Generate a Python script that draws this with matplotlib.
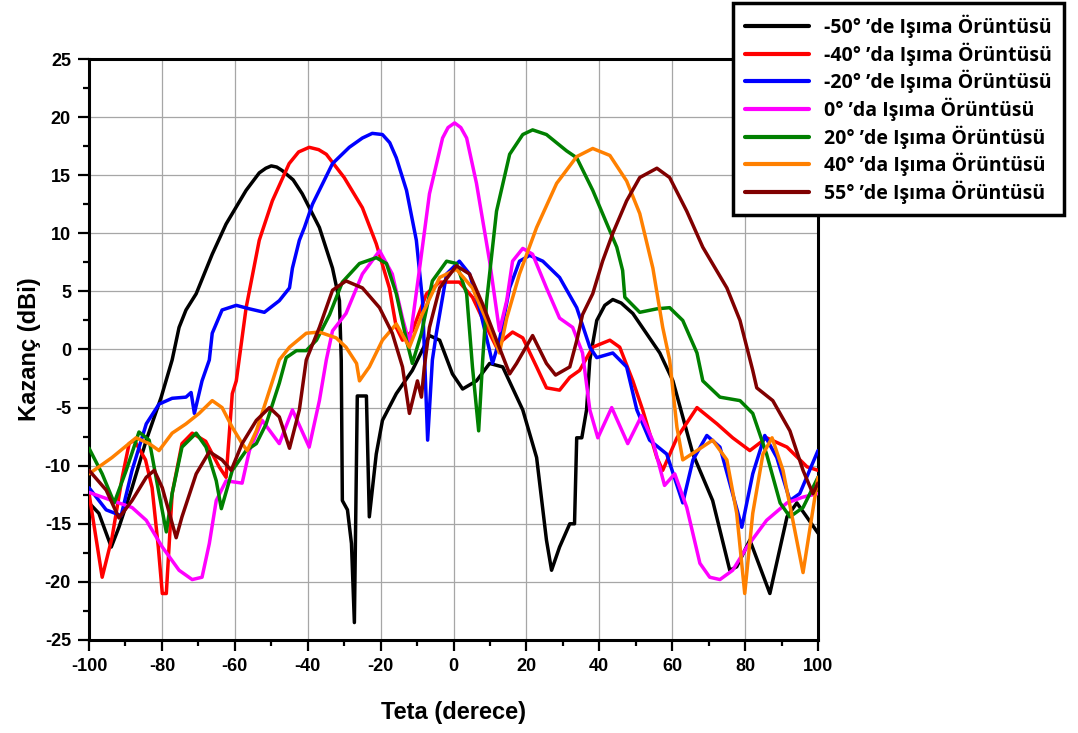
import matplotlib
matplotlib.use("Agg")
import matplotlib.pyplot as plt
from matplotlib.ticker import MultipleLocator

# ---------------- data ----------------
labels = ["-50° \u2019de Işıma Örüntüsü", "-40° \u2019da Işıma Örüntüsü",
          "-20° \u2019de Işıma Örüntüsü", "0° \u2019da Işıma Örüntüsü",
          "20° \u2019de Işıma Örüntüsü", "40° \u2019da Işıma Örüntüsü",
          "55° \u2019de Işıma Örüntüsü"]
colors = ["#000000", "#ff0000", "#0000ff", "#ff00ff", "#008000", "#ff8000", "#800000"]

x_m50 = [-100, -97.3, -93.9, -91.8, -88.2, -84.3, -80.2, -77.2, -75.3, -73.4, -70.6, -66.2, -62.4,
         -56.9, -53.3, -51.5, -50, -48.5, -47, -44, -41.5, -36.8, -33.2, -31.3, -30.8, -30.5, -29.1, -28, -27.2, -26.4,
         -23.9, -23.1, -21.2, -19.5, -15.7, -11.3, -6.6, -3.8, -0.3, 2.5, 6.3, 9.9, 13.5, 19, 22.8,
         25.5, 26.9, 29.1, 31.9, 33.2, 33.8, 35.2, 36.5, 37.4, 39.3, 41.5, 43.7, 46, 49.2, 56.6, 60.2, 65.7,
         71.1, 75.8, 77.7, 81.3, 86.8, 91.5, 94.2, 96.9, 100]
y_m50 = [-13.2, -14.1, -17, -15.3, -11.9, -7.8, -4.1, -0.9, 1.9, 3.4, 4.8, 8.2, 10.8,
         13.7, 15.2, 15.6, 15.8, 15.7, 15.4, 14.6, 13.4, 10.5, 7, 4.2, -0.9, -13, -13.8, -16.7, -23.5, -4.0,
         -4.0, -14.4, -9, -6.1, -3.8, -1.8, 1.2, 0.8, -2.1, -3.4, -2.7, -1.2, -1.5, -5.2, -9.3,
         -16.4, -19, -17, -15, -15, -7.6, -7.6, -5.2, -0.9, 2.5, 3.8, 4.3, 4.0, 3.1, -0.3, -2.7, -9,
         -13, -19, -18.7, -16.4, -21, -14.4, -13.2, -14.4, -15.8]

x_m40 = [-100, -96.4, -93.7, -90.9, -89, -87.6, -84.5, -82.7, -81, -79.9, -78.8, -77.2, -74.5, -71.7,
         -68, -64.3, -62.4, -60.7, -59.6, -56.9, -53.3, -49.7, -45.1, -42.5, -39.6, -37, -34.9, -30, -25,
         -21.2, -17.6, -15.7, -14, -11.3, -7.4, -3.8, 1.6, 5.2, 9.1, 11.8, 13.5, 16.2, 19, 22.8,
         25.5, 29.1, 31.9, 34.6, 38.2, 42.9, 45.6, 49.2, 51.9, 55.8, 57.4, 61.3, 66.8, 72.3, 76.6,
         81.3, 85.9, 91.5, 97, 100]
y_m40 = [-12.4, -19.6, -16.2, -11, -8.1, -7.8, -9.5, -11.9, -17, -21, -21, -12.4, -8.1, -7.2,
         -7.9, -10.1, -11, -3.8, -2.7, 3.6, 9.4, 12.8, 16, 17.0, 17.4, 17.2, 16.8, 14.8, 12.2,
         9.1, 5.3, 1.9, 0.8, 1.6, 4.8, 5.8, 5.8, 4.5, 1.9, 0.2, 0.8, 1.5, 1, -1.5,
         -3.3, -3.5, -2.4, -1.8, 0.2, 0.8, 0.2, -2.7, -5.2, -9.3, -10.4, -7.6, -5, -6.4, -7.6,
         -8.7, -7.6, -8.4, -10.1, -10.4]

x_m20 = [-100, -95.3, -91.2, -88.2, -84.3, -80.8, -77.2, -73.4, -72, -71.1, -69, -67, -66.2, -63.5,
         -59.6, -56, -51.9, -47.8, -45, -44.2, -42.3, -40.9, -38.7, -33.2, -28.6, -25, -22.3, -19.5,
         -17.5, -15.7, -12.9, -10.2, -8.5, -7.1, -5.8, -4.7, -1.9, 1.6, 4.4, 7.1, 9.9, 10.7, 12.6, 15.4,
         18.1, 20.9, 24.5, 29.1, 33.8, 37.4, 39.3, 43.7, 47.5, 50.3, 53.8, 58.5, 62.9, 65.7, 69.5,
         73.1, 79.1, 82.1, 85.4, 88.7, 92.3, 95, 100]
y_m20 = [-11.9, -13.8, -14.3, -10.4, -6.4, -4.7, -4.2, -4.1, -3.7, -5.5, -2.7, -0.9, 1.4, 3.4,
         3.8, 3.5, 3.2, 4.2, 5.3, 7, 9.4, 10.5, 12.5, 16, 17.4, 18.2, 18.6, 18.5,
         17.8, 16.5, 13.7, 9.4, 4.2, -7.8, -0.9, 1.4, 6.5, 7.6, 6.5, 3.6, -0.1, -1.2, 0.8, 5.3,
         7.6, 8.1, 7.6, 6.2, 3.6, 0.2, -0.7, -0.3, -1.5, -5.2, -7.8, -9, -13.2, -9.5, -7.4,
         -8.4, -15.3, -10.7, -7.4, -9.3, -13, -12.4, -8.7]

x_0 = [-100, -93.7, -88.2, -84.3, -79.9, -75.3, -71.7, -69, -67, -65.1, -62.4, -58, -56, -52.5,
       -47.8, -44.2, -39.6, -36.8, -34.9, -33.2, -29.5, -25, -20.3, -16.8, -14, -12.1, -9.3, -6.6,
       -3, -1.5, 0.3, 2, 3.6, 6.3, 9.9, 12.6, 14.6, 16.2, 19, 21.7, 25.5, 29.1, 32.7, 35.4, 37.4, 39.6,
       43.4, 47.8, 51.6, 54.6, 57.9, 60.7, 64, 67.6, 70.3, 73.1, 76.6, 80.5, 85.9, 91.5, 95.9, 100]
y_0 = [-12.3, -13, -13.6, -14.7, -17, -19, -19.8, -19.6, -16.7, -13, -11.3, -11.5, -8.7, -6.1,
       -8.1, -5.2, -8.4, -4.4, -0.9, 1.6, 3.1, 6.5, 8.5, 6.5, 2.7, 0.5, 7, 13.4,
       18.2, 19.1, 19.5, 19.1, 18.2, 14.3, 7.6, 1.6, 4.2, 7.6, 8.7, 8.2, 5.3, 2.7, 1.9, -0.3, -5.2, -7.6,
       -5, -8.1, -5.7, -7.8, -11.7, -10.7, -13.6, -18.4, -19.6, -19.8, -19, -17, -14.7, -13.2, -12.7, -12.4]

x_20 = [-100, -96.4, -93.1, -89.8, -86.3, -83.5, -80.8, -78.8, -77.2, -74.5, -70.6, -67.9, -65.1,
        -63.7, -60.7, -56.9, -54.1, -51.4, -47.8, -45.9, -43.1, -40.4, -37.6, -34, -30.5, -25.8,
        -21.2, -18.4, -15.7, -12.9, -11.3, -8.8, -5.8, -1.9, 0.8, 3.6, 5.2, 6.9, 8, 9.1, 11.8, 15.4,
        19, 21.7, 25.5, 31, 33.8, 38.2, 42.1, 44.8, 46.4, 47, 51.1, 55.8, 59.3, 62.9, 66.8, 68.4,
        73.1, 78.6, 82.1, 85.9, 89.6, 92.3, 95.9, 100]
y_20 = [-8.5, -10.7, -13.2, -10.4, -7.1, -7.8, -12.4, -15.7, -12.4, -8.4, -7.2, -8.4, -11.3,
        -13.7, -10.4, -8.7, -8.1, -6.4, -2.9, -0.7, -0.1, -0.1, 0.8, 3, 5.8, 7.4,
        7.9, 7.4, 4.8, 0.8, -1.2, 1.4, 5.9, 7.6, 7.4, 4.8, -1.5, -7, -0.9, 4.2, 11.9, 16.8,
        18.5, 18.9, 18.5, 17.1, 16.5, 13.7, 10.8, 8.8, 6.8, 4.5, 3.2, 3.5, 3.6, 2.5, -0.3, -2.7,
        -4.1, -4.4, -5.5, -9, -13.2, -14.4, -13.6, -11]

x_40 = [-100, -97.3, -93.7, -87.1, -83.5, -80.8, -77.2, -73.4, -69.8, -66.2, -63.5, -60.7, -58,
        -56.6, -54.1, -51.4, -47.8, -45, -40.4, -36.8, -32.2, -29.5, -26.6, -25.8, -23.1, -19.5,
        -15.7, -12.1, -8.5, -3.8, 0.8, 5.2, 9.9, 12.6, 14.6, 18.1, 22.8, 28.3, 33.8, 38.2, 42.9,
        47.5, 51.1, 54.7, 57.4, 59.3, 61.3, 62.9, 66.8, 71.1, 75, 77.7, 79.9, 82.1, 84.9, 87.4,
        90.4, 93.1, 95.9, 98.6, 100]
y_40 = [-10.7, -10.1, -9.3, -7.6, -8.1, -8.7, -7.2, -6.4, -5.5, -4.4, -5, -6.7, -8.1,
        -8.7, -7, -4.4, -0.9, 0.2, 1.4, 1.5, 1, 0.2, -1.2, -2.7, -1.5, 0.8,
        2.2, 0.2, 3.1, 6.2, 6.9, 5.3, 1.9, -0.3, 2.7, 6.5, 10.5, 14.3, 16.6, 17.3, 16.7,
        14.5, 11.7, 7, 1.9, -0.9, -6.7, -9.5, -8.7, -7.8, -9.5, -14.1, -21, -14.1, -9, -7.6,
        -10.4, -14.7, -19.2, -13.8, -11]

x_55 = [-100, -95.3, -91.8, -88.2, -84.3, -82.1, -79.9, -76.1, -74.5, -70.6, -67, -63.5, -61,
        -58, -54.1, -50.5, -47.8, -45, -42.3, -40.4, -36.8, -33.2, -29.5, -25, -20.3, -16.8, -14,
        -12.1, -9.9, -8.8, -8, -6.6, -3.8, 0.8, 4.4, 8, 11.8, 15.4, 17.3, 21.7, 25.5, 28, 31.9,
        34, 35.4, 38.2, 40.9, 43.7, 47.5, 51.1, 55.8, 59.3, 64, 68.4, 75, 78.6, 82.1, 83.2, 87.6,
        92.3, 95.9, 98.6, 100]
y_55 = [-10.4, -12.1, -14.5, -13, -11, -10.4, -11.9, -16.2, -14.4, -10.7, -8.8, -9.5, -10.4,
        -8.1, -6.1, -5, -5.8, -8.5, -5.2, -0.9, 1.9, 5.1, 5.9, 5.3, 3.6, 1.4, -1.5,
        -5.5, -2.7, -4.1, -1.5, 1.9, 5.3, 7.2, 6.5, 3.9, 0.8, -2.1, -1.2, 1.2, -1.2, -2.2, -1.5,
        1.0, 3.0, 4.8, 7.6, 10, 12.8, 14.8, 15.6, 14.8, 11.9, 8.8, 5.3, 2.5, -1.8, -3.3, -4.4,
        -7, -10.4, -12.4, -11.5]

series_x = [x_m50, x_m40, x_m20, x_0, x_20, x_40, x_55]
series_y = [y_m50, y_m40, y_m20, y_0, y_20, y_40, y_55]

x_ticks = [-100, -80, -60, -40, -20, 0, 20, 40, 60, 80, 100]
y_ticks = [-25, -20, -15, -10, -5, 0, 5, 10, 15, 20, 25]

# ---------------- figure ----------------
fig = plt.figure(figsize=(10.78, 7.33), dpi=100)
ax = fig.add_axes([0.0826, 0.1269, 0.6762, 0.7926])

for xs, ys, c, lab in zip(series_x, series_y, colors, labels):
    ax.plot(xs, ys, color=c, lw=2.5, label=lab, solid_joinstyle="round",
            solid_capstyle="round", zorder=3)

ax.set_xlim(-100, 100)
ax.set_ylim(-25, 25)
ax.set_xticks(x_ticks)
ax.set_yticks(y_ticks)
ax.xaxis.set_minor_locator(MultipleLocator(10))
ax.yaxis.set_minor_locator(MultipleLocator(2.5))
ax.grid(True, which="major", color="#a6a6a6", lw=0.9, zorder=0)

tickfont = dict(family="Liberation Sans", weight="bold", size=13)
ax.set_xticklabels([str(v) for v in x_ticks], **tickfont)
ax.set_yticklabels([str(v) for v in y_ticks], **tickfont)
ax.tick_params(which="major", direction="out", length=8, width=1.6, pad=5)
ax.tick_params(which="minor", direction="out", length=4.5, width=1.6)
for s in ax.spines.values():
    s.set_linewidth(2.2)

ax.set_xlabel("Teta (derece)", family="Liberation Sans", weight="bold", size=17, labelpad=19)
ax.set_ylabel("Kazanç (dBi)", family="Liberation Sans", weight="bold", size=17, labelpad=3)

leg = ax.legend(loc="upper left", bbox_to_anchor=(0.680, 0.996), bbox_transform=fig.transFigure,
                borderaxespad=0, frameon=True, fancybox=False, framealpha=1,
                prop=dict(family="Open Sans", weight="bold", size=14),
                handlelength=3.3, handletextpad=0.8, labelspacing=0.22, borderpad=0.6)
leg.get_frame().set_edgecolor("black")
leg.get_frame().set_linewidth(2.5)
for l in leg.get_lines():
    l.set_linewidth(3)
leg.set_zorder(10)

fig.savefig("out.png", dpi=100)
